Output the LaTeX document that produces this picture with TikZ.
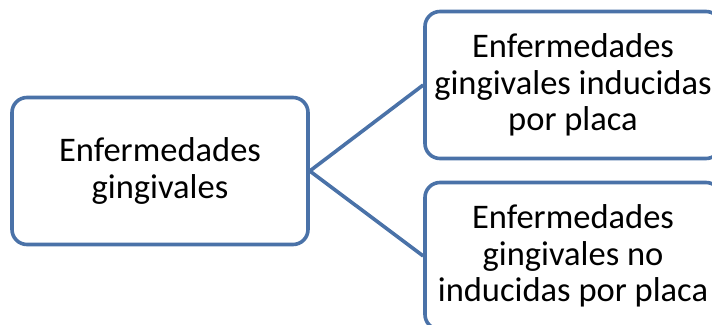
\documentclass[tikz,border=0pt]{standalone}
\usepackage{fontspec}
\setmainfont{Carlito}
\usepackage{xcolor}
\usepackage{tikz}
\definecolor{boxblue}{RGB}{74,114,168}

\begin{document}
\begin{tikzpicture}[x=1pt,y=1pt,
    bluebox/.style={draw=boxblue, line width=3.6pt, rounded corners=15pt, fill=white,
        minimum width=296pt, minimum height=147pt, inner sep=0pt, align=center,
        font=\fontsize{34.5}{36.5}\selectfont},
    link/.style={draw=boxblue, line width=3.6pt}]
            \clip (0,0) rectangle (712,324);
            \useasboundingbox (0,0) rectangle (712,324);

            % Left - root
            \node[bluebox] (root) at (160,153) {Enfermedades\\gingivales};

            % Right - the two kinds
            \node[bluebox] (plac) at (573,239) {Enfermedades\\gingivales inducidas\\por placa};
            \node[bluebox] (noplac) at (573,68) {Enfermedades\\gingivales no\\inducidas por placa};

            % Links
            \draw[link] (root.east) -- (plac.west);
            \draw[link] (root.east) -- (noplac.west);
        \end{tikzpicture}
\end{document}
